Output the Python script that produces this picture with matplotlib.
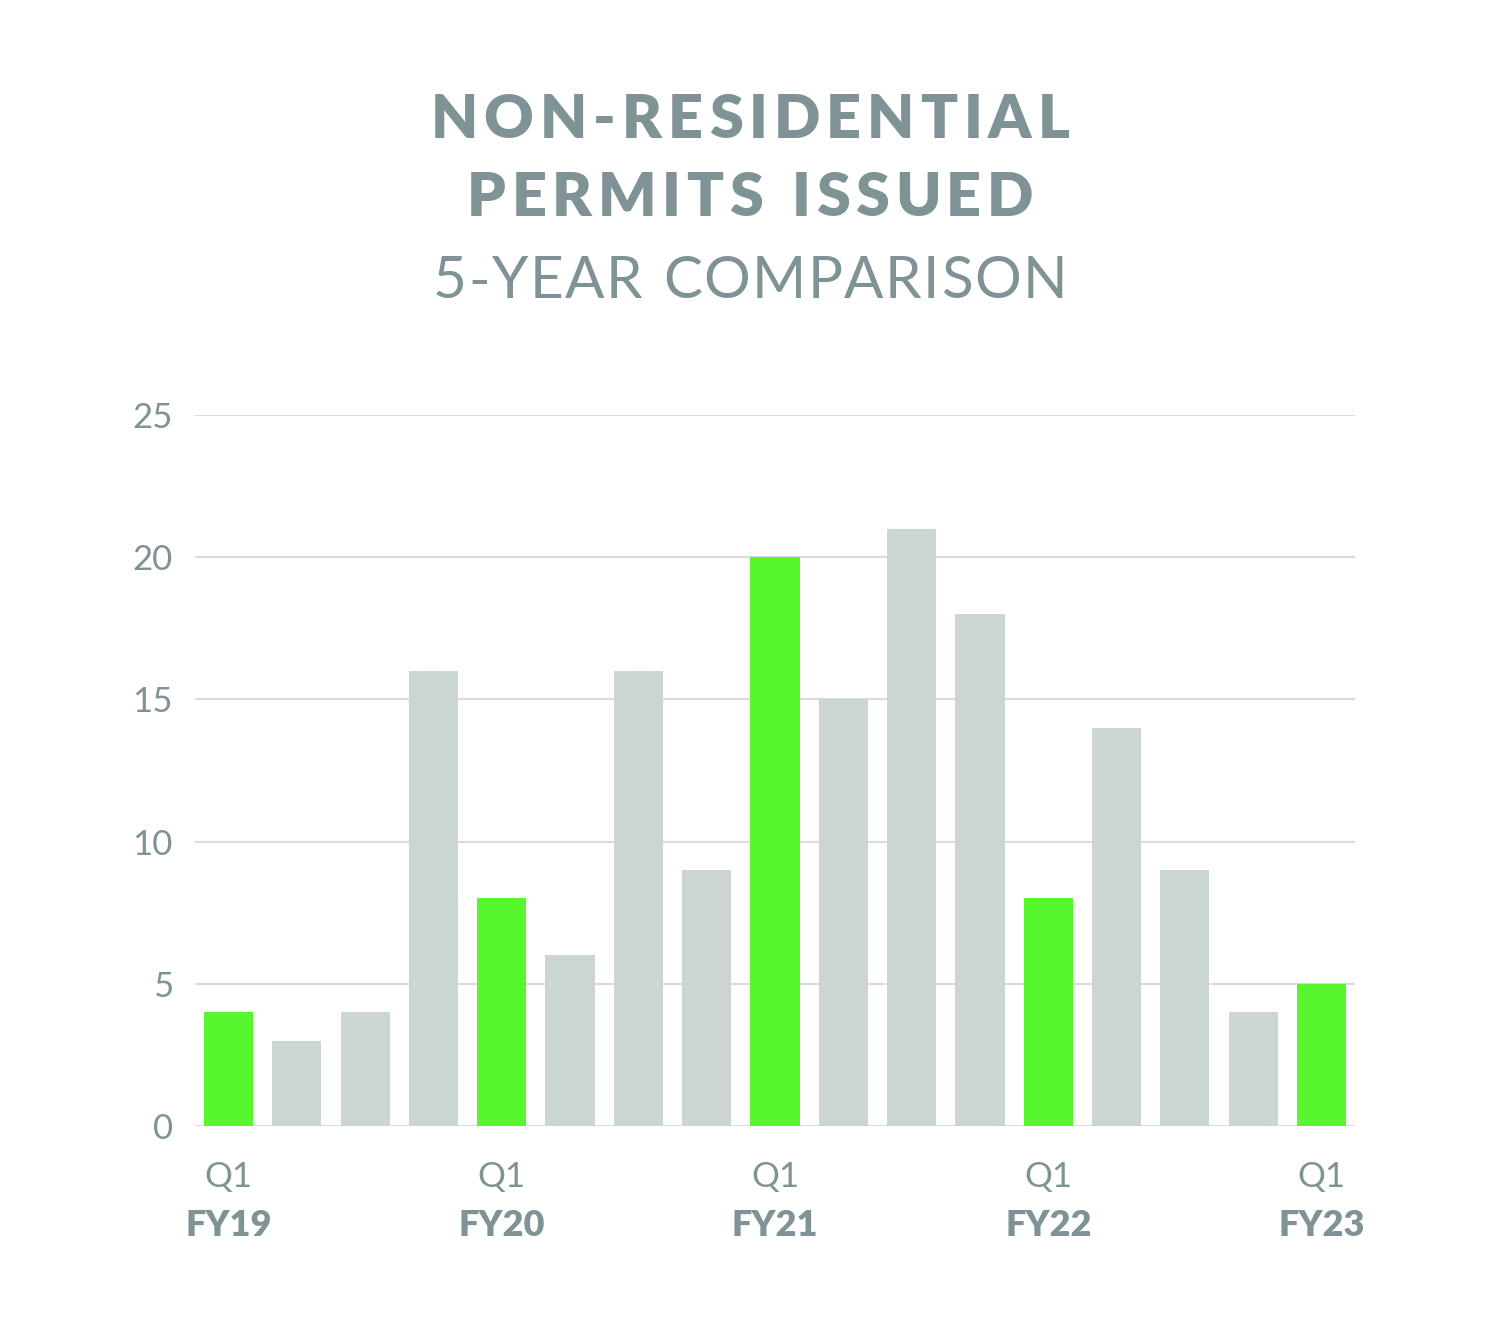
import numpy as np
import matplotlib
matplotlib.use("Agg")
import matplotlib.pyplot as plt

# data
quarters = ["Q1 FY19", "Q2 FY19", "Q3 FY19", "Q4 FY19",
            "Q1 FY20", "Q2 FY20", "Q3 FY20", "Q4 FY20",
            "Q1 FY21", "Q2 FY21", "Q3 FY21", "Q4 FY21",
            "Q1 FY22", "Q2 FY22", "Q3 FY22", "Q4 FY22",
            "Q1 FY23"]
permits = [4, 3, 4, 16, 8, 6, 16, 9, 20, 15, 21, 18, 8, 14, 9, 4, 5]
fy_labels = ["FY19", "FY20", "FY21", "FY22", "FY23"]
y_ticks = [0, 5, 10, 15, 20, 25]

green = "#58f72d"
grey_bar = "#cbd5d2"
txt = "#7f9396"
grid_c = "#d8dcdc"

plt.rcParams['font.family'] = ['Lato', 'DejaVu Sans']

fig = plt.figure(figsize=(15, 13.4), dpi=100)
ax = fig.add_axes([195/1500, 1 - 1126/1340, 1160/1500, (1126-415)/1340])

x = np.arange(len(permits))
colors = [green if q.startswith("Q1") else grey_bar for q in quarters]
ax.bar(x, permits, width=0.72, color=colors, zorder=2)

ax.set_xlim(-0.49, len(permits) - 0.51)
ax.set_ylim(0, 25)
ax.set_yticks(y_ticks)
ax.set_yticklabels([str(v) for v in y_ticks], fontsize=25, color=txt, fontweight='normal')
ax.tick_params(axis='y', length=0, pad=16)
ax.set_xticks([])
for v in y_ticks:
    ax.axhline(v, color=grid_c, lw=1.5, zorder=1)
for s in ax.spines.values():
    s.set_visible(False)

# Q1 / FY labels under the green bars
q1_idx = [i for i, q in enumerate(quarters) if q.startswith("Q1")]
for i, fy in zip(q1_idx, fy_labels):
    ax.text(i, -1.8, "Q1", ha='center', va='center', fontsize=25, color=txt,
            fontweight='normal', clip_on=False)
    ax.text(i, -3.5, fy, ha='center', va='center', fontsize=26, color=txt,
            fontweight='heavy', clip_on=False)


def spaced_text(s, xc, yc, size, weight, track):
    # draw a string letter by letter so the tracking can be widened
    r = fig.canvas.get_renderer()
    parts = []
    for ch in s:
        t = fig.text(0, yc, ch, fontsize=size, fontweight=weight, color=txt, va='center', ha='left')
        parts.append(t)
    widths = [p.get_window_extent(r).width if ch != " " else size * 0.3 * 100 / 72
              for p, ch in zip(parts, s)]
    total = sum(widths) + track * (len(s) - 1)
    xpix = xc * 1500 - total / 2
    for p, w in zip(parts, widths):
        p.set_x(xpix / 1500)
        xpix += w + track


spaced_text("NON-RESIDENTIAL", 0.5, 1 - 120/1340, 44, 'heavy', 6)
spaced_text("PERMITS ISSUED", 0.5, 1 - 198/1340, 44, 'heavy', 5.5)
spaced_text("5-YEAR COMPARISON", 0.5, 1 - 282/1340, 42, 'normal', 1.5)

fig.savefig("out.png", dpi=100)
